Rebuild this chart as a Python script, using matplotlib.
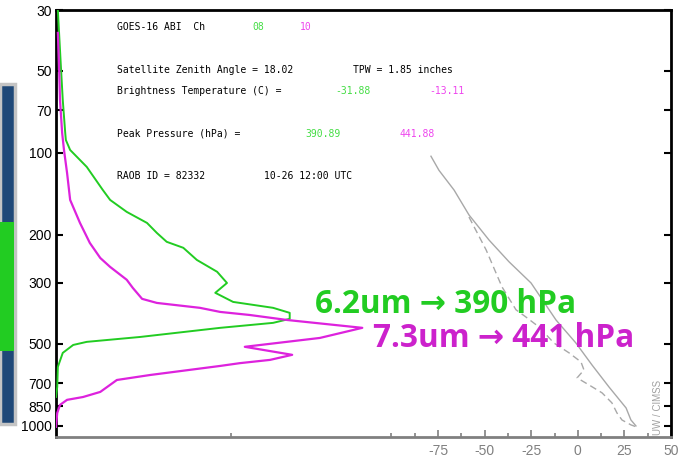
"""
Funciones de peso GOES-16 ABI (canales 08 y 10) con el sondeo RAOB 82332
"""
#IMPORTS
import matplotlib
matplotlib.use('Agg')
import matplotlib.pyplot as plt
from matplotlib.patches import Rectangle
from matplotlib.ticker import FixedLocator, NullFormatter

plt.rcParams['font.family'] = ['Liberation Sans', 'DejaVu Sans']
plt.rcParams['axes.unicode_minus'] = False

#DATOS
niveles = [30, 50, 70, 100, 200, 300, 500, 700, 850, 1000]
etiquetas_niveles = ['30', '50', '70', '100', '200', '300', '500', '700', '850', '1000']
temps_ticks = [-75, -50, -25, 0, 25, 50]
temps_menores = [-100, -87.5, -62.5, -37.5, -12.5, 12.5, 37.5]

# canal 08 (6.2um)
presion_ch08 = [30, 36.4, 48.5, 64.1, 84.6, 89.8, 97.7, 112.7, 136.8, 148.9, 164.7,
                180.8, 196.7, 212, 223, 247, 273, 300, 326, 352, 370, 386, 406, 420,
                438, 473, 493, 506, 541, 609, 721, 785]
peso_ch08 = [0.003, 0.005, 0.008, 0.011, 0.015, 0.016, 0.023, 0.050, 0.076, 0.088, 0.115,
             0.148, 0.164, 0.180, 0.207, 0.229, 0.262, 0.278, 0.259, 0.288, 0.353, 0.380,
             0.380, 0.353, 0.267, 0.137, 0.050, 0.028, 0.011, 0.003, 0.002, 0.0]

# canal 10 (7.3um)
presion_ch10 = [36.4, 48.5, 64.1, 84.6, 97.7, 118.6, 148.9, 180.8, 214, 243, 262, 292,
                313, 343, 355, 370, 383, 393, 410, 438, 477, 514, 550, 574, 590, 604,
                652, 680, 752, 785, 804, 839, 898, 1009]
peso_ch10 = [0.003, 0.005, 0.0065, 0.010, 0.013, 0.018, 0.023, 0.039, 0.055, 0.072, 0.088,
             0.115, 0.125, 0.140, 0.164, 0.234, 0.267, 0.315, 0.376, 0.498, 0.429, 0.307,
             0.384, 0.348, 0.299, 0.267, 0.153, 0.099, 0.072, 0.044, 0.018, 0.0065, 0.002, 0.0]

# sondeo: temperatura y punto de rocio (C)
presion_temp = [103, 116, 137, 169, 209, 251, 300, 410, 498, 599, 721, 861, 953, 1002]
temperatura = [-78.8, -74.5, -66.4, -58.4, -47.6, -36.9, -25.1, -11.7, -1.0, 7.6, 16.7,
               25.9, 28.5, 31.2]
presion_rocio = [172, 227, 310, 376, 400, 435, 498, 541, 584, 625, 668, 709, 758, 825,
                 898, 953, 993, 1009]
rocio = [-58.4, -49.2, -40.7, -33.2, -27.8, -20.8, -12.8, -4.7, 1.7, 3.3, -0.4, 6.0,
         13.0, 18.3, 21.0, 23.7, 28.5, 31.2]

VERDE = '#22cc22'
MAGENTA = '#dd22dd'
ANCHO, ALTO = 687, 458


def fx(px):
    return px / ANCHO


def fy(py):
    return 1 - py / ALTO


fig = plt.figure(figsize=(6.87, 4.58), dpi=100)

# recorte del panel de la izquierda
fig.patches.append(Rectangle((fx(0), fy(424)), fx(15), 340 / ALTO, transform=fig.transFigure,
                             facecolor='#1f4878', edgecolor='#c4c4c4', linewidth=2.5))
fig.patches.append(Rectangle((fx(0), fy(351)), fx(14), 129 / ALTO, transform=fig.transFigure,
                             facecolor=VERDE, edgecolor='none'))

ax = fig.add_axes([fx(56), fy(437), 615 / ANCHO, 427 / ALTO])
ax.set_yscale('log')
ax.set_ylim(1100, 30)
ax.set_xlim(-280, 50)

# sondeo en gris
ax.plot(temperatura, presion_temp, color='#a8a8a8', lw=1.0)
ax.plot(rocio, presion_rocio, color='#a8a8a8', lw=1.0, linestyle=(0, (5, 3)))

ax.yaxis.set_major_locator(FixedLocator(niveles))
ax.yaxis.set_minor_locator(FixedLocator([]))
ax.set_yticklabels(etiquetas_niveles)
ax.tick_params(axis='y', which='major', direction='in', length=5, width=1.5, color='black',
               labelsize=10, pad=3, right=True)
ax.tick_params(axis='y', which='minor', left=False, right=False)

ax.xaxis.set_major_locator(FixedLocator(temps_ticks))
ax.xaxis.set_minor_locator(FixedLocator(temps_menores + [-186]))
ax.xaxis.set_minor_formatter(NullFormatter())
ax.tick_params(axis='x', which='major', direction='in', length=5, width=1.2, color='#808080',
               labelcolor='#808080', labelsize=10, pad=5)
ax.tick_params(axis='x', which='minor', direction='in', length=3, width=1.2, color='#808080')

for lado in ['left', 'top', 'right']:
    ax.spines[lado].set_linewidth(2)
    ax.spines[lado].set_color('black')
ax.spines['bottom'].set_linewidth(2)
ax.spines['bottom'].set_color('#808080')

# funciones de peso
ax_wf = ax.twiny()
ax_wf.set_xlim(0, 1)
ax_wf.tick_params(top=False, labeltop=False, bottom=False, labelbottom=False)
for lado in ax_wf.spines:
    ax_wf.spines[lado].set_visible(False)
ax_wf.plot(peso_ch08, presion_ch08, color=VERDE, lw=1.4)
ax_wf.plot(peso_ch10, presion_ch10, color=MAGENTA, lw=1.6)

# textos informativos
mono = dict(family='DejaVu Sans Mono', fontsize=7, va='center')
fig.text(fx(117), fy(27), 'GOES-16 ABI  Ch', color='black', **mono)
fig.text(fx(252), fy(27), '08', color='#44dd44', **mono)
fig.text(fx(300), fy(27), '10', color='#ee44ee', **mono)
fig.text(fx(117), fy(70), 'Satellite Zenith Angle = 18.02', color='black', **mono)
fig.text(fx(353), fy(70), 'TPW = 1.85 inches', color='black', **mono)
fig.text(fx(117), fy(91), 'Brightness Temperature (C) =', color='black', **mono)
fig.text(fx(335), fy(91), '-31.88', color='#44dd44', **mono)
fig.text(fx(429), fy(91), '-13.11', color='#ee44ee', **mono)
fig.text(fx(117), fy(134), 'Peak Pressure (hPa) =', color='black', **mono)
fig.text(fx(305), fy(134), '390.89', color='#44dd44', **mono)
fig.text(fx(400), fy(134), '441.88', color='#ee44ee', **mono)
fig.text(fx(117), fy(176), 'RAOB ID = 82332', color='black', **mono)
fig.text(fx(264), fy(176), '10-26 12:00 UTC', color='black', **mono)

# etiquetas grandes
grande = dict(family=['Open Sans', 'DejaVu Sans'], fontsize=22.7, fontweight='bold',
              va='baseline')
fig.text(fx(315), fy(313), '6.2um \u2192 390 hPa', color=VERDE, **grande)
fig.text(fx(373), fy(347), '7.3um \u2192 441 hPa', color='#cc22cc', **grande)

fig.text(fx(658), fy(407), 'UW / CIMSS', rotation=90, color='#a0a0a0', fontsize=7,
         ha='center', va='center')

fig.savefig('out.png', dpi=100)
